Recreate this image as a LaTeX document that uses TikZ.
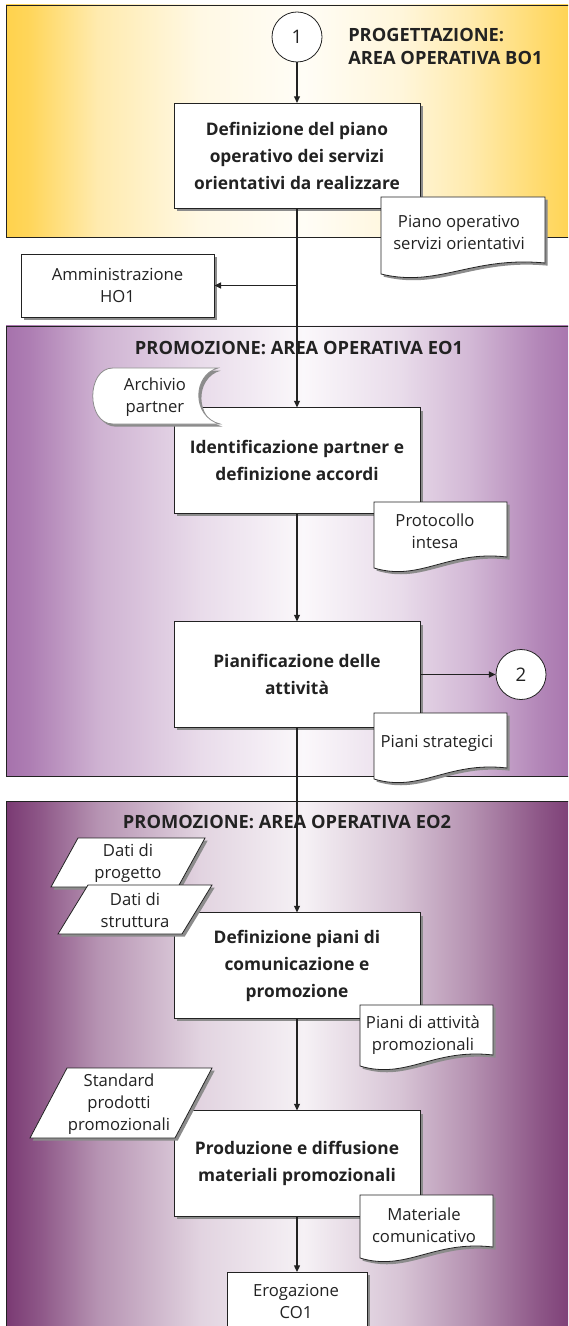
\documentclass[tikz,border=0pt]{standalone}
\usepackage{fontspec}
\setmainfont{Open Sans}
\usetikzlibrary{arrows.meta,shadows}

\definecolor{bandY}{HTML}{FFD24C}
\definecolor{bandP}{HTML}{A672AC}
\definecolor{bandQ}{HTML}{7A3A73}
\definecolor{ink}{HTML}{222222}

% horizontal bands: strong at the edges, pale in the middle
\pgfdeclarehorizontalshading{yellowband}{100bp}{color(0bp)=(bandY); color(25bp)=(bandY); color(27bp)=(bandY!92!white); color(33bp)=(bandY!45!white); color(42bp)=(bandY!15!white); color(51bp)=(bandY!5!white); color(59.5bp)=(bandY!20!white); color(65.5bp)=(bandY!45!white); color(71.5bp)=(bandY!80!white); color(75bp)=(bandY); color(100bp)=(bandY)}
\pgfdeclarehorizontalshading{lilacband}{100bp}{color(0bp)=(bandP); color(25bp)=(bandP); color(27bp)=(bandP!92!white); color(33bp)=(bandP!55!white); color(42bp)=(bandP!25!white); color(51bp)=(bandP!5!white); color(59.5bp)=(bandP!25!white); color(65.5bp)=(bandP!50!white); color(71.5bp)=(bandP!85!white); color(75bp)=(bandP); color(100bp)=(bandP)}
\pgfdeclarehorizontalshading{plumband}{100bp}{color(0bp)=(bandQ); color(25bp)=(bandQ); color(28bp)=(bandQ!85!white); color(33bp)=(bandQ!55!white); color(42bp)=(bandQ!22!white); color(51bp)=(bandQ!7!white); color(59.5bp)=(bandQ!30!white); color(65.5bp)=(bandQ!55!white); color(71.5bp)=(bandQ!85!white); color(75bp)=(bandQ); color(100bp)=(bandQ)}

\tikzset{
  panel/.style={draw=ink, line width=0.7pt},
  boxshadow/.style={drop shadow={shadow xshift=2pt, shadow yshift=-2pt, opacity=1, fill=black!45}},
  procbox/.style={draw=ink, fill=white, line width=0.6pt, boxshadow,
    minimum width=184.5pt, minimum height=79pt, align=center, text=ink,
    font=\bfseries\fontsize{13}{20.25}\selectfont},
  plainbox/.style={draw=ink, fill=white, line width=0.6pt, boxshadow,
    align=center, text=ink, font=\fontsize{12.5}{16.5}\selectfont},
  lbl/.style={align=center, text=ink, inner sep=0pt, font=\fontsize{12.5}{16.5}\selectfont},
  areatitle/.style={text=ink, inner sep=0pt, font=\bfseries\fontsize{13.7}{17.25}\selectfont},
  offpage/.style={circle, draw=ink, fill=white, line width=0.6pt, minimum size=37.5pt,
    inner sep=0pt, text=ink, font=\fontsize{14}{16}\selectfont},
  docshape/.style={draw=ink, fill=white, line width=0.6pt, boxshadow},
  datashape/.style={draw=ink, fill=white, line width=0.6pt, boxshadow},
  storeshape/.style={draw=black!45, fill=white, line width=0.6pt, boxshadow},
  flow/.style={draw=ink, line width=0.9pt, -{Triangle[length=5pt,width=4.5pt]}},
}

% document symbol: left x, top y, right x, bottom-left y
\newcommand\docsymbol[4]{%
  \path[docshape] (#1,#2) -- (#3,#2) -- (#3,{#4-11})
    .. controls ({#1+0.55*(#3-#1)},{#4-18}) and ({#1+0.35*(#3-#1)},{#4+14}) .. (#1,#4) -- cycle;}

\begin{document}
\begin{tikzpicture}[x=0.75pt, y=-0.75pt]
\useasboundingbox (0,0) rectangle (568,1326);
\clip (0,0) rectangle (568,1326);
\fill[white] (0,0) rectangle (568,1326);

% swimlane areas
\path[panel, shading=yellowband] (6,5) rectangle (578,237);
\path[panel, shading=lilacband] (6,326) rectangle (578,776);
\path[panel, shading=plumband] (6,801) rectangle (578,1345);

\node[areatitle, anchor=west, align=left] (t1) at (348,46.5) {PROGETTAZIONE:\\AREA OPERATIVA BO1};
\node[areatitle] (t2) at (299,348) {PROMOZIONE: AREA OPERATIVA EO1};
\node[areatitle] (t3) at (287,822) {PROMOZIONE: AREA OPERATIVA EO2};

% process steps
\node[offpage] (c1) at (297,37) {1};
\node[procbox] (b1) at (297,156) {Definizione del piano\\operativo dei servizi\\orientativi da realizzare};
\node[plainbox, minimum width=144.75pt, minimum height=47.25pt] (admin) at (117.5,285.5) {Amministrazione\\HO1};
\node[procbox] (b2) at (297,460.5) {Identificazione partner e\\definizione accordi};
\node[procbox] (b3) at (297,674.5) {Pianificazione delle\\attività};
\node[offpage] (c2) at (521,674.5) {2};
\node[procbox] (b4) at (297,965.5) {Definizione piani di\\comunicazione e\\promozione};
\node[procbox] (b5) at (297,1163.5) {Produzione e diffusione\\materiali promozionali};
\node[plainbox, minimum width=105pt, minimum height=60pt, anchor=north] (ero) at (297,1272) {};
\node[lbl] (erotxt) at (296,1301.5) {Erogazione\\CO1};

% connectors
\coordinate (j) at (b1.south |- admin.east);
\draw[flow] (c1) -- (b1);
\draw[flow] (b1) -- (b2);
\draw[flow] (j) -- (admin.east);
\draw[flow] (b2) -- (b3);
\draw[flow] (b3) -- (c2);
\draw[flow] (b3) -- (b4);
\draw[flow] (b4) -- (b5);
\draw[flow] (b5) -- (ero);

% documents
\docsymbol{381}{197}{545}{274}
\node[lbl] (d1) at (459,232) {Piano operativo\\servizi orientativi};
\docsymbol{374}{502}{507}{568}
\node[lbl] (d2) at (435,531) {Protocollo\\intesa};
\docsymbol{374}{713}{507}{779}
\node[lbl] (d3) at (437,743) {Piani strategici};
\docsymbol{360}{1005}{493}{1066}
\node[lbl] (d4) at (423,1035.5) {Piani di attività\\promozionali};
\docsymbol{360}{1195}{493}{1258}
\node[lbl] (d5) at (424,1225) {Materiale\\comunicativo};

% stored data
\path[storeshape] (113,368) -- (218,368) .. controls (192,375) and (192,417) .. (220,424)
  -- (113,424) .. controls (86,424) and (86,368) .. (113,368) -- cycle;
\node[lbl] (arch) at (155,397) {Archivio\\partner};

% input data
\path[datashape] (78,838) -- (205,838) -- (178,887) -- (51,887) -- cycle;
\node[lbl] (p1) at (128,863.5) {Dati di\\progetto};
\path[datashape] (88,885) -- (212,885) -- (182,934) -- (58,934) -- cycle;
\node[lbl] (p2) at (135,910.5) {Dati di\\struttura};
\path[datashape] (67,1068) -- (212,1068) -- (175,1138) -- (30,1138) -- cycle;
\node[lbl] (p3) at (119,1104) {Standard\\prodotti\\promozionali};
\end{tikzpicture}
\end{document}
